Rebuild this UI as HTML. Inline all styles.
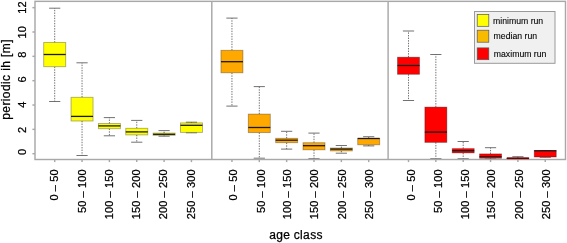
<!DOCTYPE html>
<html><head><meta charset="utf-8"><style>
html,body{margin:0;padding:0;background:#fff;width:567px;height:243px;overflow:hidden}
svg{display:block;will-change:transform}
</style></head><body>
<svg width="567" height="243" viewBox="0 0 567 243">
<rect width="567" height="243" fill="#fff"/>
<g transform="translate(0.5,0.5)">
<line x1="54.20" y1="42.00" x2="54.20" y2="7.70" stroke="#585858" stroke-width="0.85" stroke-dasharray="1.4 1.2"/>
<line x1="54.20" y1="66.20" x2="54.20" y2="101.00" stroke="#585858" stroke-width="0.85" stroke-dasharray="1.4 1.2"/>
<line x1="48.60" y1="7.70" x2="59.80" y2="7.70" stroke="#585858" stroke-width="0.85"/>
<line x1="48.60" y1="101.00" x2="59.80" y2="101.00" stroke="#585858" stroke-width="0.85"/>
<rect x="43.20" y="42.00" width="22.00" height="24.20" fill="#ffff00" stroke="#000" stroke-opacity="0.32" stroke-width="0.9"/>
<line x1="43.20" y1="54.00" x2="65.20" y2="54.00" stroke="#1a1a1a" stroke-width="1.3"/>
<line x1="81.55" y1="96.80" x2="81.55" y2="62.30" stroke="#585858" stroke-width="0.85" stroke-dasharray="1.4 1.2"/>
<line x1="81.55" y1="120.50" x2="81.55" y2="155.00" stroke="#585858" stroke-width="0.85" stroke-dasharray="1.4 1.2"/>
<line x1="75.95" y1="62.30" x2="87.15" y2="62.30" stroke="#585858" stroke-width="0.85"/>
<line x1="75.95" y1="155.00" x2="87.15" y2="155.00" stroke="#585858" stroke-width="0.85"/>
<rect x="70.55" y="96.80" width="22.00" height="23.70" fill="#ffff00" stroke="#000" stroke-opacity="0.32" stroke-width="0.9"/>
<line x1="70.55" y1="115.90" x2="92.55" y2="115.90" stroke="#1a1a1a" stroke-width="1.3"/>
<line x1="108.90" y1="123.00" x2="108.90" y2="117.10" stroke="#585858" stroke-width="0.85" stroke-dasharray="1.4 1.2"/>
<line x1="108.90" y1="128.20" x2="108.90" y2="135.30" stroke="#585858" stroke-width="0.85" stroke-dasharray="1.4 1.2"/>
<line x1="103.30" y1="117.10" x2="114.50" y2="117.10" stroke="#585858" stroke-width="0.85"/>
<line x1="103.30" y1="135.30" x2="114.50" y2="135.30" stroke="#585858" stroke-width="0.85"/>
<rect x="97.90" y="123.00" width="22.00" height="5.20" fill="#ffff00" stroke="#000" stroke-opacity="0.32" stroke-width="0.9"/>
<line x1="97.90" y1="125.40" x2="119.90" y2="125.40" stroke="#1a1a1a" stroke-width="1.3"/>
<line x1="136.25" y1="127.80" x2="136.25" y2="119.90" stroke="#585858" stroke-width="0.85" stroke-dasharray="1.4 1.2"/>
<line x1="136.25" y1="134.40" x2="136.25" y2="141.70" stroke="#585858" stroke-width="0.85" stroke-dasharray="1.4 1.2"/>
<line x1="130.65" y1="119.90" x2="141.85" y2="119.90" stroke="#585858" stroke-width="0.85"/>
<line x1="130.65" y1="141.70" x2="141.85" y2="141.70" stroke="#585858" stroke-width="0.85"/>
<rect x="125.25" y="127.80" width="22.00" height="6.60" fill="#ffff00" stroke="#000" stroke-opacity="0.32" stroke-width="0.9"/>
<line x1="125.25" y1="131.40" x2="147.25" y2="131.40" stroke="#1a1a1a" stroke-width="1.3"/>
<line x1="163.60" y1="132.60" x2="163.60" y2="130.10" stroke="#585858" stroke-width="0.85" stroke-dasharray="1.4 1.2"/>
<line x1="163.60" y1="134.80" x2="163.60" y2="135.70" stroke="#585858" stroke-width="0.85" stroke-dasharray="1.4 1.2"/>
<line x1="158.00" y1="130.10" x2="169.20" y2="130.10" stroke="#585858" stroke-width="0.85"/>
<line x1="158.00" y1="135.70" x2="169.20" y2="135.70" stroke="#585858" stroke-width="0.85"/>
<rect x="152.60" y="132.60" width="22.00" height="2.20" fill="#ffff00" stroke="#000" stroke-opacity="0.32" stroke-width="0.9"/>
<line x1="152.60" y1="133.80" x2="174.60" y2="133.80" stroke="#1a1a1a" stroke-width="1.3"/>
<line x1="190.95" y1="122.40" x2="190.95" y2="121.70" stroke="#585858" stroke-width="0.85" stroke-dasharray="1.4 1.2"/>
<line x1="190.95" y1="131.90" x2="190.95" y2="132.30" stroke="#585858" stroke-width="0.85" stroke-dasharray="1.4 1.2"/>
<line x1="185.35" y1="121.70" x2="196.55" y2="121.70" stroke="#585858" stroke-width="0.85"/>
<line x1="185.35" y1="132.30" x2="196.55" y2="132.30" stroke="#585858" stroke-width="0.85"/>
<rect x="179.95" y="122.40" width="22.00" height="9.50" fill="#ffff00" stroke="#000" stroke-opacity="0.32" stroke-width="0.9"/>
<line x1="179.95" y1="124.80" x2="201.95" y2="124.80" stroke="#1a1a1a" stroke-width="1.3"/>
<line x1="231.45" y1="49.80" x2="231.45" y2="17.60" stroke="#585858" stroke-width="0.85" stroke-dasharray="1.4 1.2"/>
<line x1="231.45" y1="72.30" x2="231.45" y2="105.60" stroke="#585858" stroke-width="0.85" stroke-dasharray="1.4 1.2"/>
<line x1="225.85" y1="17.60" x2="237.05" y2="17.60" stroke="#585858" stroke-width="0.85"/>
<line x1="225.85" y1="105.60" x2="237.05" y2="105.60" stroke="#585858" stroke-width="0.85"/>
<rect x="220.45" y="49.80" width="22.00" height="22.50" fill="#ffa800" stroke="#000" stroke-opacity="0.32" stroke-width="0.9"/>
<line x1="220.45" y1="61.20" x2="242.45" y2="61.20" stroke="#1a1a1a" stroke-width="1.3"/>
<line x1="258.80" y1="113.60" x2="258.80" y2="86.10" stroke="#585858" stroke-width="0.85" stroke-dasharray="1.4 1.2"/>
<line x1="258.80" y1="132.10" x2="258.80" y2="157.70" stroke="#585858" stroke-width="0.85" stroke-dasharray="1.4 1.2"/>
<line x1="253.20" y1="86.10" x2="264.40" y2="86.10" stroke="#585858" stroke-width="0.85"/>
<line x1="253.20" y1="157.70" x2="264.40" y2="157.70" stroke="#585858" stroke-width="0.85"/>
<rect x="247.80" y="113.60" width="22.00" height="18.50" fill="#ffa800" stroke="#000" stroke-opacity="0.32" stroke-width="0.9"/>
<line x1="247.80" y1="127.00" x2="269.80" y2="127.00" stroke="#1a1a1a" stroke-width="1.3"/>
<line x1="286.15" y1="137.80" x2="286.15" y2="130.80" stroke="#585858" stroke-width="0.85" stroke-dasharray="1.4 1.2"/>
<line x1="286.15" y1="142.20" x2="286.15" y2="148.60" stroke="#585858" stroke-width="0.85" stroke-dasharray="1.4 1.2"/>
<line x1="280.55" y1="130.80" x2="291.75" y2="130.80" stroke="#585858" stroke-width="0.85"/>
<line x1="280.55" y1="148.60" x2="291.75" y2="148.60" stroke="#585858" stroke-width="0.85"/>
<rect x="275.15" y="137.80" width="22.00" height="4.40" fill="#ffa800" stroke="#000" stroke-opacity="0.32" stroke-width="0.9"/>
<line x1="275.15" y1="139.70" x2="297.15" y2="139.70" stroke="#1a1a1a" stroke-width="1.3"/>
<line x1="313.50" y1="142.20" x2="313.50" y2="132.60" stroke="#585858" stroke-width="0.85" stroke-dasharray="1.4 1.2"/>
<line x1="313.50" y1="149.30" x2="313.50" y2="158.20" stroke="#585858" stroke-width="0.85" stroke-dasharray="1.4 1.2"/>
<line x1="307.90" y1="132.60" x2="319.10" y2="132.60" stroke="#585858" stroke-width="0.85"/>
<line x1="307.90" y1="158.20" x2="319.10" y2="158.20" stroke="#585858" stroke-width="0.85"/>
<rect x="302.50" y="142.20" width="22.00" height="7.10" fill="#ffa800" stroke="#000" stroke-opacity="0.32" stroke-width="0.9"/>
<line x1="302.50" y1="145.20" x2="324.50" y2="145.20" stroke="#1a1a1a" stroke-width="1.3"/>
<line x1="340.85" y1="147.50" x2="340.85" y2="145.00" stroke="#585858" stroke-width="0.85" stroke-dasharray="1.4 1.2"/>
<line x1="340.85" y1="150.40" x2="340.85" y2="152.70" stroke="#585858" stroke-width="0.85" stroke-dasharray="1.4 1.2"/>
<line x1="335.25" y1="145.00" x2="346.45" y2="145.00" stroke="#585858" stroke-width="0.85"/>
<line x1="335.25" y1="152.70" x2="346.45" y2="152.70" stroke="#585858" stroke-width="0.85"/>
<rect x="329.85" y="147.50" width="22.00" height="2.90" fill="#ffa800" stroke="#000" stroke-opacity="0.32" stroke-width="0.9"/>
<line x1="329.85" y1="148.60" x2="351.85" y2="148.60" stroke="#1a1a1a" stroke-width="1.3"/>
<line x1="368.20" y1="137.90" x2="368.20" y2="136.20" stroke="#585858" stroke-width="0.85" stroke-dasharray="1.4 1.2"/>
<line x1="368.20" y1="144.30" x2="368.20" y2="145.40" stroke="#585858" stroke-width="0.85" stroke-dasharray="1.4 1.2"/>
<line x1="362.60" y1="136.20" x2="373.80" y2="136.20" stroke="#585858" stroke-width="0.85"/>
<line x1="362.60" y1="145.40" x2="373.80" y2="145.40" stroke="#585858" stroke-width="0.85"/>
<rect x="357.20" y="137.90" width="22.00" height="6.40" fill="#ffa800" stroke="#000" stroke-opacity="0.32" stroke-width="0.9"/>
<line x1="357.20" y1="138.00" x2="379.20" y2="138.00" stroke="#1a1a1a" stroke-width="1.3"/>
<line x1="408.00" y1="56.70" x2="408.00" y2="30.50" stroke="#585858" stroke-width="0.85" stroke-dasharray="1.4 1.2"/>
<line x1="408.00" y1="73.80" x2="408.00" y2="100.00" stroke="#585858" stroke-width="0.85" stroke-dasharray="1.4 1.2"/>
<line x1="402.40" y1="30.50" x2="413.60" y2="30.50" stroke="#585858" stroke-width="0.85"/>
<line x1="402.40" y1="100.00" x2="413.60" y2="100.00" stroke="#585858" stroke-width="0.85"/>
<rect x="397.00" y="56.70" width="22.00" height="17.10" fill="#ff0000" stroke="#000" stroke-opacity="0.32" stroke-width="0.9"/>
<line x1="397.00" y1="65.00" x2="419.00" y2="65.00" stroke="#1a1a1a" stroke-width="1.3"/>
<line x1="435.35" y1="106.60" x2="435.35" y2="54.00" stroke="#585858" stroke-width="0.85" stroke-dasharray="1.4 1.2"/>
<line x1="435.35" y1="141.90" x2="435.35" y2="158.20" stroke="#585858" stroke-width="0.85" stroke-dasharray="1.4 1.2"/>
<line x1="429.75" y1="54.00" x2="440.95" y2="54.00" stroke="#585858" stroke-width="0.85"/>
<line x1="429.75" y1="158.20" x2="440.95" y2="158.20" stroke="#585858" stroke-width="0.85"/>
<rect x="424.35" y="106.60" width="22.00" height="35.30" fill="#ff0000" stroke="#000" stroke-opacity="0.32" stroke-width="0.9"/>
<line x1="424.35" y1="131.60" x2="446.35" y2="131.60" stroke="#1a1a1a" stroke-width="1.3"/>
<line x1="462.70" y1="148.10" x2="462.70" y2="141.00" stroke="#585858" stroke-width="0.85" stroke-dasharray="1.4 1.2"/>
<line x1="462.70" y1="152.40" x2="462.70" y2="158.20" stroke="#585858" stroke-width="0.85" stroke-dasharray="1.4 1.2"/>
<line x1="457.10" y1="141.00" x2="468.30" y2="141.00" stroke="#585858" stroke-width="0.85"/>
<line x1="457.10" y1="158.20" x2="468.30" y2="158.20" stroke="#585858" stroke-width="0.85"/>
<rect x="451.70" y="148.10" width="22.00" height="4.30" fill="#ff0000" stroke="#000" stroke-opacity="0.32" stroke-width="0.9"/>
<line x1="451.70" y1="150.20" x2="473.70" y2="150.20" stroke="#1a1a1a" stroke-width="1.3"/>
<line x1="490.05" y1="153.40" x2="490.05" y2="147.20" stroke="#585858" stroke-width="0.85" stroke-dasharray="1.4 1.2"/>
<line x1="490.05" y1="157.80" x2="490.05" y2="158.50" stroke="#585858" stroke-width="0.85" stroke-dasharray="1.4 1.2"/>
<line x1="484.45" y1="147.20" x2="495.65" y2="147.20" stroke="#585858" stroke-width="0.85"/>
<line x1="484.45" y1="158.50" x2="495.65" y2="158.50" stroke="#585858" stroke-width="0.85"/>
<rect x="479.05" y="153.40" width="22.00" height="4.40" fill="#ff0000" stroke="#000" stroke-opacity="0.32" stroke-width="0.9"/>
<line x1="479.05" y1="156.10" x2="501.05" y2="156.10" stroke="#1a1a1a" stroke-width="1.3"/>
<line x1="517.40" y1="157.50" x2="517.40" y2="156.20" stroke="#585858" stroke-width="0.85" stroke-dasharray="1.4 1.2"/>
<line x1="517.40" y1="158.50" x2="517.40" y2="158.70" stroke="#585858" stroke-width="0.85" stroke-dasharray="1.4 1.2"/>
<line x1="511.80" y1="156.20" x2="523.00" y2="156.20" stroke="#585858" stroke-width="0.85"/>
<line x1="511.80" y1="158.70" x2="523.00" y2="158.70" stroke="#585858" stroke-width="0.85"/>
<rect x="506.40" y="157.50" width="22.00" height="1.00" fill="#ff0000" stroke="#000" stroke-opacity="0.32" stroke-width="0.9"/>
<line x1="506.40" y1="158.00" x2="528.40" y2="158.00" stroke="#1a1a1a" stroke-width="1.3"/>
<line x1="544.75" y1="150.00" x2="544.75" y2="150.00" stroke="#585858" stroke-width="0.85" stroke-dasharray="1.4 1.2"/>
<line x1="544.75" y1="156.50" x2="544.75" y2="156.80" stroke="#585858" stroke-width="0.85" stroke-dasharray="1.4 1.2"/>
<line x1="539.15" y1="150.00" x2="550.35" y2="150.00" stroke="#585858" stroke-width="0.85"/>
<line x1="539.15" y1="156.80" x2="550.35" y2="156.80" stroke="#585858" stroke-width="0.85"/>
<rect x="533.75" y="150.00" width="22.00" height="6.50" fill="#ff0000" stroke="#000" stroke-opacity="0.32" stroke-width="0.9"/>
<line x1="533.75" y1="150.30" x2="555.75" y2="150.30" stroke="#1a1a1a" stroke-width="1.3"/>
<g fill="none" stroke="#a8a8a8" stroke-width="1.45">
<rect x="34.5" y="0.85" width="530.50" height="158.15"/>
<line x1="211.3" y1="0.85" x2="211.3" y2="159.0"/>
<line x1="387.6" y1="0.85" x2="387.6" y2="159.0"/>
<line x1="31.90" y1="153.20" x2="34.5" y2="153.20"/>
<line x1="31.90" y1="128.86" x2="34.5" y2="128.86"/>
<line x1="31.90" y1="104.52" x2="34.5" y2="104.52"/>
<line x1="31.90" y1="80.18" x2="34.5" y2="80.18"/>
<line x1="31.90" y1="55.84" x2="34.5" y2="55.84"/>
<line x1="31.90" y1="31.50" x2="34.5" y2="31.50"/>
<line x1="31.90" y1="7.16" x2="34.5" y2="7.16"/>
<line x1="54.20" y1="159.0" x2="54.20" y2="161.60"/>
<line x1="81.55" y1="159.0" x2="81.55" y2="161.60"/>
<line x1="108.90" y1="159.0" x2="108.90" y2="161.60"/>
<line x1="136.25" y1="159.0" x2="136.25" y2="161.60"/>
<line x1="163.60" y1="159.0" x2="163.60" y2="161.60"/>
<line x1="190.95" y1="159.0" x2="190.95" y2="161.60"/>
<line x1="231.45" y1="159.0" x2="231.45" y2="161.60"/>
<line x1="258.80" y1="159.0" x2="258.80" y2="161.60"/>
<line x1="286.15" y1="159.0" x2="286.15" y2="161.60"/>
<line x1="313.50" y1="159.0" x2="313.50" y2="161.60"/>
<line x1="340.85" y1="159.0" x2="340.85" y2="161.60"/>
<line x1="368.20" y1="159.0" x2="368.20" y2="161.60"/>
<line x1="408.00" y1="159.0" x2="408.00" y2="161.60"/>
<line x1="435.35" y1="159.0" x2="435.35" y2="161.60"/>
<line x1="462.70" y1="159.0" x2="462.70" y2="161.60"/>
<line x1="490.05" y1="159.0" x2="490.05" y2="161.60"/>
<line x1="517.40" y1="159.0" x2="517.40" y2="161.60"/>
<line x1="544.75" y1="159.0" x2="544.75" y2="161.60"/>
</g>
<rect x="506.40" y="157.0" width="22.00" height="1.7" fill="#9a0a0a"/>
<line x1="506.40" y1="157.9" x2="528.40" y2="157.9" stroke="#5a0000" stroke-width="0.9"/>
</g>
<g font-family='"Liberation Sans", sans-serif' font-size="11" letter-spacing="0.12" fill="#000" stroke="#000" stroke-width="0.25" text-anchor="middle">
<text transform="translate(26.0,151.90) rotate(-90)">0</text>
<text transform="translate(26.0,129.80) rotate(-90)">2</text>
<text transform="translate(26.0,104.70) rotate(-90)">4</text>
<text transform="translate(26.0,79.40) rotate(-90)">6</text>
<text transform="translate(26.0,54.50) rotate(-90)">8</text>
<text transform="translate(26.0,32.20) rotate(-90)">10</text>
<text transform="translate(26.0,7.40) rotate(-90)">12</text>
<text text-anchor="end" transform="translate(58.20,169.3) rotate(-90)">0 – 50</text>
<text text-anchor="end" transform="translate(86.15,169.3) rotate(-90)">50 – 100</text>
<text text-anchor="end" transform="translate(112.60,169.3) rotate(-90)">100 – 150</text>
<text text-anchor="end" transform="translate(140.10,169.3) rotate(-90)">150 – 200</text>
<text text-anchor="end" transform="translate(167.20,169.3) rotate(-90)">200 – 250</text>
<text text-anchor="end" transform="translate(194.55,169.3) rotate(-90)">250 – 300</text>
<text text-anchor="end" transform="translate(237.45,169.3) rotate(-90)">0 – 50</text>
<text text-anchor="end" transform="translate(265.00,169.3) rotate(-90)">50 – 100</text>
<text text-anchor="end" transform="translate(291.25,169.3) rotate(-90)">100 – 150</text>
<text text-anchor="end" transform="translate(318.40,169.3) rotate(-90)">150 – 200</text>
<text text-anchor="end" transform="translate(345.95,169.3) rotate(-90)">200 – 250</text>
<text text-anchor="end" transform="translate(372.80,169.3) rotate(-90)">250 – 300</text>
<text text-anchor="end" transform="translate(414.80,169.3) rotate(-90)">0 – 50</text>
<text text-anchor="end" transform="translate(441.95,169.3) rotate(-90)">50 – 100</text>
<text text-anchor="end" transform="translate(468.90,169.3) rotate(-90)">100 – 150</text>
<text text-anchor="end" transform="translate(495.05,169.3) rotate(-90)">150 – 200</text>
<text text-anchor="end" transform="translate(522.60,169.3) rotate(-90)">200 – 250</text>
<text text-anchor="end" transform="translate(549.55,169.3) rotate(-90)">250 – 300</text>
</g>
<text font-family='"Liberation Sans", sans-serif' font-size="12" letter-spacing="0.4" fill="#000" stroke="#000" stroke-width="0.25" text-anchor="middle" transform="translate(10.1,79.4) rotate(-90)">periodic ih [m]</text>
<text font-family='"Liberation Sans", sans-serif' font-size="12" letter-spacing="0.4" fill="#000" stroke="#000" stroke-width="0.25" text-anchor="middle" x="296.1" y="239" word-spacing="-0.5">age class</text>
<rect x="474.5" y="11.5" width="80.5" height="51.8" fill="#f0f0f0" stroke="#9a9a9a" stroke-width="1"/>
<rect x="477.2" y="14.5" width="11.6" height="11.80" fill="#ffff00" stroke="#555" stroke-width="0.7"/>
<text font-family='"Liberation Sans", sans-serif' font-size="8.7" fill="#000" stroke="#000" stroke-width="0.1" x="493.0" y="23.7">minimum run</text>
<rect x="477.2" y="30.2" width="11.6" height="12.00" fill="#f9bb00" stroke="#555" stroke-width="0.7"/>
<text font-family='"Liberation Sans", sans-serif' font-size="8.7" fill="#000" stroke="#000" stroke-width="0.1" x="493.6" y="39.2">median run</text>
<rect x="477.2" y="47.9" width="11.6" height="11.80" fill="#ff0000" stroke="#555" stroke-width="0.7"/>
<text font-family='"Liberation Sans", sans-serif' font-size="8.7" fill="#000" stroke="#000" stroke-width="0.1" x="493.8" y="56.8">maximum run</text>
</svg>
</body></html>
